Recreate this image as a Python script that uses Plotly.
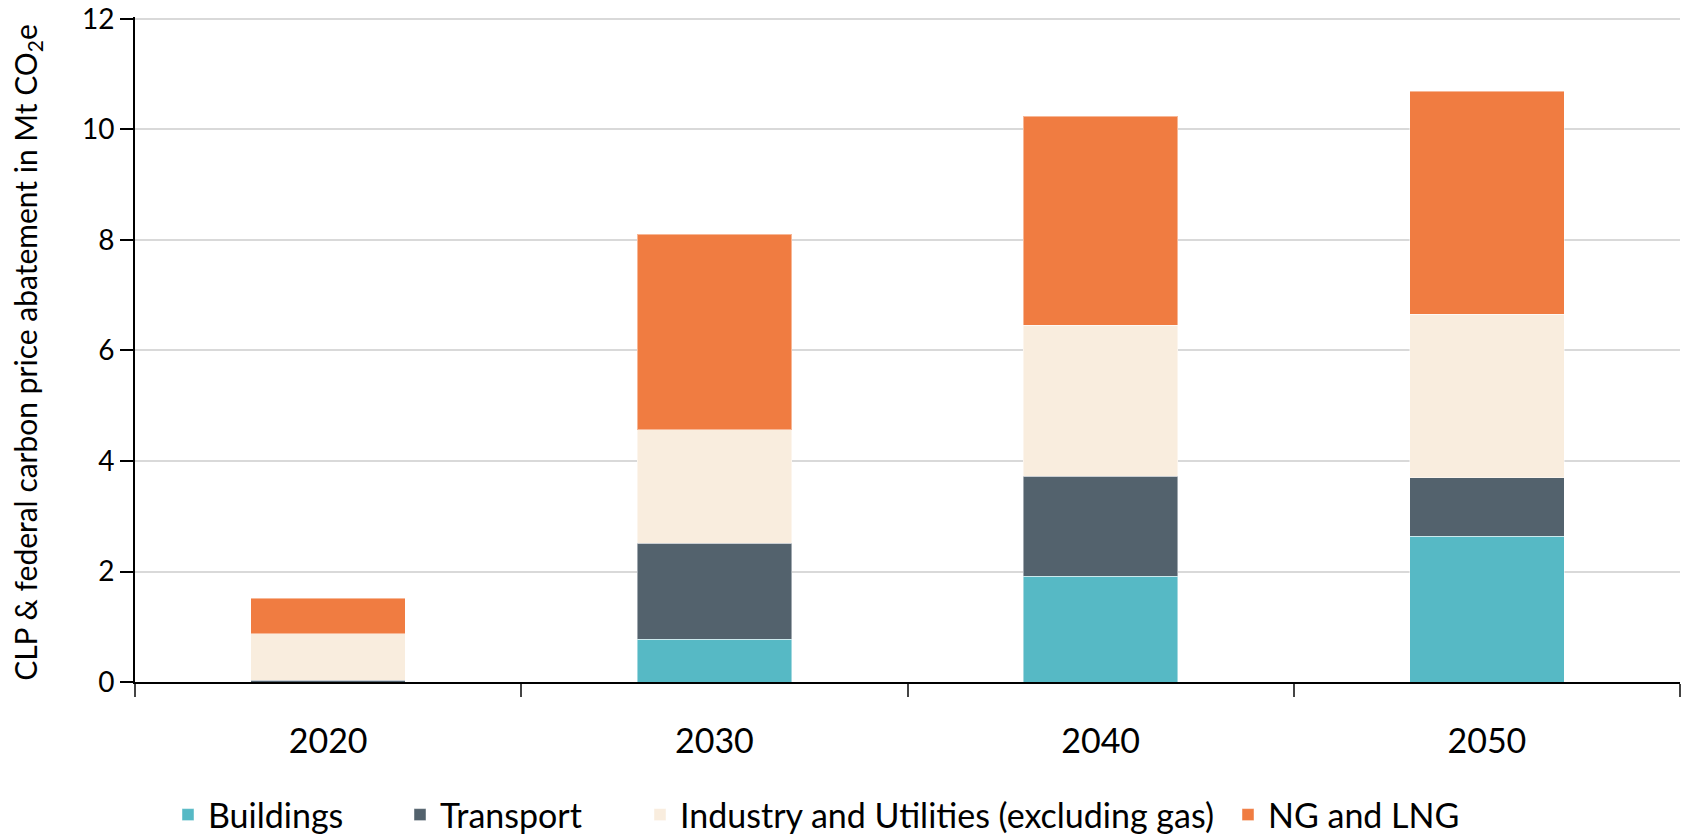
import plotly.graph_objects as go

years = ["2020", "2030", "2040", "2050"]
buildings = [0.0, 0.77, 1.91, 2.64]
transport = [0.03, 1.74, 1.81, 1.06]
industry = [0.84, 2.06, 2.74, 2.96]
ng_lng = [0.65, 3.53, 3.78, 4.03]

series = [
    ("Buildings", buildings, "#56B9C5"),
    ("Transport", transport, "#53626D"),
    ("Industry and Utilities (excluding gas)", industry, "#F9EDDE"),
    ("NG and LNG", ng_lng, "#F07C41"),
]

FONT = "Lato"
W, H = 1683, 836
L, R, T, B = 135, 3, 17, 154
plot_w = W - L - R
plot_h = H - T - B

# legend text start positions (px from left of page)
legend_text_x = [208, 440, 680, 1268]
legend_y_px = 815

fig = go.Figure()
legend_defs = {}
for i, (name, vals, color) in enumerate(series):
    lname = "legend" if i == 0 else f"legend{i + 1}"
    fig.add_trace(go.Bar(
        x=years, y=vals, name=name, legend=lname,
        marker=dict(color=color, line=dict(width=1, color="rgba(255,255,255,0.45)")),
    ))
    legend_defs[lname] = dict(
        orientation="h",
        x=(legend_text_x[i] - 40 - L) / plot_w, xanchor="left",
        y=-(legend_y_px - (T + plot_h)) / plot_h, yanchor="middle",
        font=dict(size=34, family=FONT, color="#000000"),
        bgcolor="rgba(0,0,0,0)", borderwidth=0,
    )

fig.update_layout(
    barmode="stack",
    bargap=0.6,
    width=W, height=H,
    paper_bgcolor="white", plot_bgcolor="white",
    margin=dict(l=L, r=R, t=T, b=B, autoexpand=False),
    font=dict(family=FONT, color="#000000"),
    showlegend=True,
    annotations=[dict(
        text="CLP & federal carbon price abatement in Mt CO<sub>2</sub>e",
        xref="paper", yref="paper", x=-(L - 27) / plot_w, y=0.495,
        xanchor="center", yanchor="middle", textangle=-90, showarrow=False,
        font=dict(size=30, family=FONT, color="#000000"),
    )],
    **legend_defs,
)
fig.update_xaxes(
    type="category", automargin=False,
    showline=True, linecolor="#000000", linewidth=2,
    ticks="outside", tickson="boundaries", ticklen=13, tickwidth=1.5, tickcolor="#444444",
    tickfont=dict(size=34, family=FONT),
    ticklabelstandoff=28,
    showgrid=False,
)
fig.update_yaxes(
    range=[0, 12.036], tickvals=[0, 2, 4, 6, 8, 10, 12], automargin=False,
    showline=True, linecolor="#000000", linewidth=2,
    ticks="outside", ticklen=13, tickwidth=2, tickcolor="#000000",
    tickfont=dict(size=28, family=FONT),
    ticklabeloverflow="allow",
    showgrid=True, gridcolor="#D9D9D9", gridwidth=1.5,
    zeroline=False,
)

fig.write_html(
    "out.html",
    config={"displayModeBar": False},
    post_script="document.body.style.margin='0';document.body.style.padding='0';",
)
